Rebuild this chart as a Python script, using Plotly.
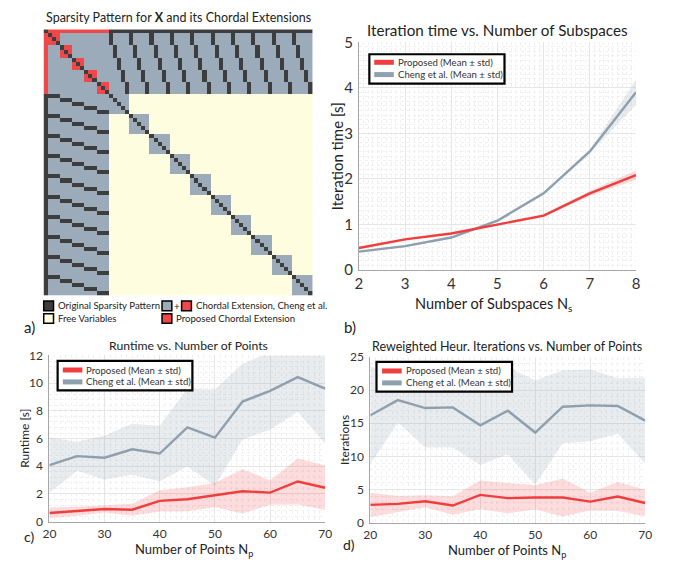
import numpy as np
import plotly.graph_objects as go

W, H = 677, 572
FONT = "Lato"

def fx(x):
    return x / W

def fy(y):
    return 1 - y / H

# ---------------- data ----------------
# sparsity-pattern structure (panel a)
N_GROUPS = 5        # groups in the leading block
GROUP_SIZE = 3
N_BLOCKS = 10       # diagonal blocks
BLOCK_SIZE = 5
pattern_names = ["Free Variables", "Chordal Extension, Cheng et al.",
                 "Proposed Chordal Extension", "Original Sparsity Pattern"]
pattern_colors = ["#fffde0", "#9babba", "#f04848", "#3d3d3d"]

# panel b
subspaces = [2, 3, 4, 5, 6, 7, 8]
iter_prop_mean = [0.48, 0.67, 0.80, 0.99, 1.19, 1.68, 2.08]
iter_prop_std = [0.02, 0.02, 0.02, 0.02, 0.03, 0.05, 0.10]
iter_cheng_mean = [0.40, 0.52, 0.71, 1.08, 1.68, 2.60, 3.90]
iter_cheng_std = [0.02, 0.02, 0.02, 0.03, 0.03, 0.04, 0.28]

# panels c, d
points = [20, 25, 30, 35, 40, 45, 50, 55, 60, 65, 70]
runtime_prop_mean = [0.63, 0.75, 0.92, 0.86, 1.50, 1.62, 1.92, 2.20, 2.10, 2.90, 2.45]
runtime_prop_std = [0.39, 0.32, 0.26, 0.43, 0.77, 0.87, 0.88, 1.61, 0.88, 1.66, 1.60]
runtime_cheng_mean = [4.08, 4.73, 4.62, 5.23, 4.92, 6.80, 6.07, 8.67, 9.44, 10.44, 9.60]
runtime_cheng_std = [2.00, 1.05, 1.60, 1.84, 2.00, 2.82, 3.47, 2.73, 2.80, 2.51, 4.00]
iters_prop_mean = [2.68, 2.83, 3.22, 2.58, 4.19, 3.70, 3.80, 3.80, 3.17, 3.95, 2.97]
iters_prop_std = [1.83, 1.20, 0.90, 1.40, 2.17, 2.27, 1.83, 2.88, 1.34, 2.20, 2.00]
iters_cheng_mean = [16.2, 18.5, 17.3, 17.4, 14.7, 16.9, 13.6, 17.5, 17.7, 17.6, 15.4]
iters_cheng_std = [7.4, 3.4, 5.95, 6.05, 6.0, 6.56, 7.85, 5.5, 5.4, 4.2, 6.5]

series_names = ["Proposed (Mean ± std)", "Cheng et al. (Mean ± std)"]
RED = "#f03e3e"
GRAY = "#8e9fae"
RED_FILL = "rgba(240,62,62,0.18)"
GRAY_FILL = "rgba(142,159,174,0.20)"

# ---------------- sparsity matrix ----------------
top = 1 + N_GROUPS * GROUP_SIZE
N = top + N_BLOCKS * BLOCK_SIZE
Z = np.zeros((N, N), dtype=int)
Z[:top, :] = 1
Z[:, :top] = 1
for k in range(N_BLOCKS):
    s = top + k * BLOCK_SIZE
    Z[s:s + BLOCK_SIZE, s:s + BLOCK_SIZE] = 1
Z[0, 1:top] = 2
Z[1:top, 0] = 2
for g in range(N_GROUPS):
    s = 1 + g * GROUP_SIZE
    Z[s:s + GROUP_SIZE, s:s + GROUP_SIZE] = 2
Z[0, 0] = 3
Z[0, top:] = 3
Z[top:, 0] = 3
for k in range(N_BLOCKS):
    for j in range(N_GROUPS):
        c = top + k * BLOCK_SIZE + j
        r = 1 + j * GROUP_SIZE
        Z[r:r + GROUP_SIZE, c] = 3
        Z[c, r:r + GROUP_SIZE] = 3
np.fill_diagonal(Z, 3)

cs = [[0, pattern_colors[0]], [1/6, pattern_colors[0]],
      [1/6, pattern_colors[1]], [0.5, pattern_colors[1]],
      [0.5, pattern_colors[2]], [5/6, pattern_colors[2]],
      [5/6, pattern_colors[3]], [1, pattern_colors[3]]]

fig = go.Figure()
fig.add_trace(go.Heatmap(z=Z, x=list(range(N)), y=list(range(N)), zmin=0, zmax=3,
                         colorscale=cs, showscale=False, xaxis="x", yaxis="y",
                         hoverinfo="skip"))

def add_band(xs, mean, std, color, fill, xa, ya):
    m = np.array(mean); s = np.array(std)
    up = m + s; lo = m - s
    fig.add_trace(go.Scatter(x=list(xs) + list(xs)[::-1], y=list(up) + list(lo[::-1]),
                             fill="toself", fillcolor=fill, line=dict(width=0),
                             mode="lines", showlegend=False, xaxis=xa, yaxis=ya,
                             hoverinfo="skip"))
    fig.add_trace(go.Scatter(x=xs, y=mean, mode="lines", line=dict(color=color, width=2.4),
                             showlegend=False, xaxis=xa, yaxis=ya))

add_band(subspaces, iter_cheng_mean, iter_cheng_std, GRAY, GRAY_FILL, "x2", "y2")
add_band(subspaces, iter_prop_mean, iter_prop_std, RED, RED_FILL, "x2", "y2")
add_band(points, runtime_cheng_mean, runtime_cheng_std, GRAY, GRAY_FILL, "x3", "y3")
add_band(points, runtime_prop_mean, runtime_prop_std, RED, RED_FILL, "x3", "y3")
add_band(points, iters_cheng_mean, iters_cheng_std, GRAY, GRAY_FILL, "x4", "y4")
add_band(points, iters_prop_mean, iters_prop_std, RED, RED_FILL, "x4", "y4")

def ax(domain, rng, dtick, minor, anchor, size, standoff):
    return dict(domain=domain, range=rng, dtick=dtick, anchor=anchor,
                showgrid=True, gridcolor="#e6e6e6", gridwidth=1,
                minor=dict(dtick=minor, showgrid=True, gridcolor="#f0f0f0", griddash="dot"),
                zeroline=False, showline=True, linecolor="#a6a6a6", linewidth=1,
                ticks="", ticklabelstandoff=standoff,
                tickfont=dict(family=FONT, size=size, color="#333333"))

layout = dict(
    width=W, height=H, margin=dict(l=0, r=0, t=0, b=0),
    paper_bgcolor="white", plot_bgcolor="white", showlegend=False,
    font=dict(family=FONT, color="#222222"),
    xaxis=dict(domain=[fx(37.3), fx(312.3)], range=[-0.5, N - 0.5], visible=False, anchor="y"),
    yaxis=dict(domain=[fy(295), fy(20)], range=[N - 0.5, -0.5], visible=False, anchor="x"),
    xaxis2=ax([fx(359.3), fx(642.3)], [2, 8], 1, 0.1, "y2", 15, 0),
    yaxis2=ax([fy(268.3), fy(33.3)], [0, 5], 1, 0.1, "x2", 15, 2),
    xaxis3=ax([fx(43.3), fx(325)], [20, 70], 10, 1, "y3", 12, 1),
    yaxis3=ax([fy(528.3), fy(356.7)], [0, 12], 2, 0.4, "x3", 12, 3),
    xaxis4=ax([fx(371), fx(651.7)], [20, 70], 10, 1, "y4", 12, 1),
    yaxis4=ax([fy(529.3), fy(358.3)], [0, 25], 5, 1, "x4", 12, 3),
)
fig.update_layout(**layout)

ann = []
shapes = []

def text(x, y, s, size, xanchor="center", angle=0, color="#222222"):
    ann.append(dict(x=fx(x), y=fy(y), xref="paper", yref="paper", text=s, showarrow=False,
                    xanchor=xanchor, yanchor="middle", textangle=angle,
                    font=dict(family=FONT, size=size, color=color)))

# panel a
text(175, 8, "Sparsity Pattern for <b>X</b> and its Chordal Extensions", 12.5)

def sq(x0, y0, color):
    shapes.append(dict(type="rect", xref="paper", yref="paper", x0=fx(x0), x1=fx(x0 + 10),
                       y0=fy(y0 + 10), y1=fy(y0), fillcolor=color,
                       line=dict(color="black", width=1.5)))

sq(37.5, 300.5, pattern_colors[3]); text(50, 305.5, pattern_names[3], 9.6, "left")
sq(37.5, 313.5, pattern_colors[0]); text(50, 318.5, pattern_names[0], 9.6, "left")
sq(158.3, 300.5, pattern_colors[1]); text(173.3, 305.5, "+", 10)
sq(178.3, 300.5, pattern_colors[2]); text(190.5, 305.5, pattern_names[1], 9.6, "left")
sq(158.3, 313.5, pattern_colors[2]); text(171, 318.5, pattern_names[2], 9.6, "left")
text(23, 327, "a)", 15)

# panel b
text(501, 21, "Iteration time vs. Number of Subspaces", 15.2)
text(337, 151, "Iteration time [s]", 15, angle=-90)
text(497, 304, "Number of Subspaces N<sub>s</sub>", 14.5)
text(350, 327, "b)", 15)

# panel c
text(185, 346.5, "Runtime vs. Number of Points", 12.2)
text(17, 442, "Runtime [s]", 12, angle=-90)
text(191, 558, "Number of Points N<sub>p</sub>", 13)
text(22, 544, "c)", 14)

# panel d
text(511, 347, "Reweighted Heur. Iterations vs. Number of Points", 12.5)
text(344, 444, "Iterations", 12, angle=-90)
text(511, 558.5, "Number of Points N<sub>p</sub>", 13)
text(349, 552, "d)", 14)

def legend_box(x0, y0, x1, y1, sx, ty1, ty2, tx):
    shapes.append(dict(type="rect", xref="paper", yref="paper", x0=fx(x0), x1=fx(x1),
                       y0=fy(y1), y1=fy(y0), fillcolor="white",
                       line=dict(color="black", width=2.2), layer="above"))
    for yy, col, name in [(ty1, RED, series_names[0]), (ty2, GRAY, series_names[1])]:
        shapes.append(dict(type="line", xref="paper", yref="paper", x0=fx(sx), x1=fx(sx + 20),
                           y0=fy(yy), y1=fy(yy), line=dict(color=col, width=5), layer="above"))
        text(tx, yy, name, 9.6, "left", color="#333333")

legend_box(370, 45.7, 508, 76, 375, 54, 66.7, 397.5)
legend_box(51.7, 362.3, 189.3, 392.7, 57, 371.7, 384, 79)
legend_box(377.3, 363.3, 515.7, 394, 383, 372.7, 385, 405.5)

fig.update_layout(annotations=ann, shapes=shapes)
fig.write_html("out.html")
